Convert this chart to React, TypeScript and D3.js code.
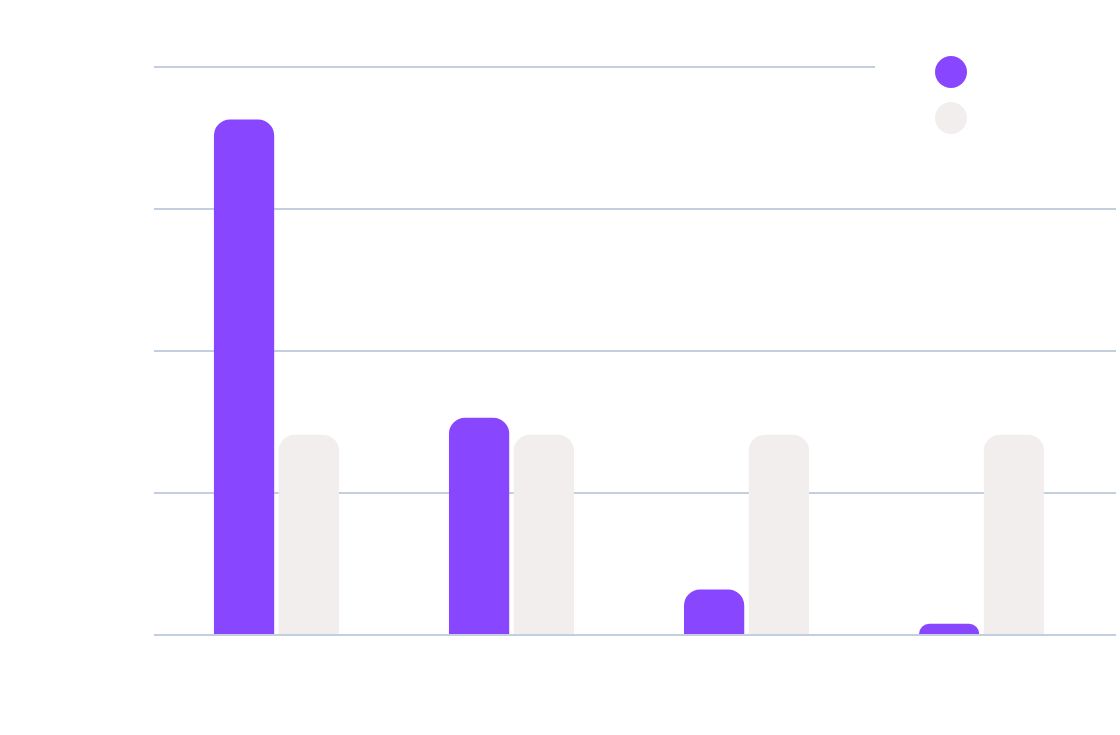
import { useEffect, useRef } from 'react'
import * as d3 from 'd3'

const categories = ['A', 'B', 'C', 'D']
const seriesNames = ['Series 1', 'Series 2']
const series1 = [3.63, 1.53, 0.32, 0.08]
const series2 = [1.41, 1.41, 1.41, 1.41]
const yTicks = [0, 1, 2, 3, 4]
const colors = ['#8847ff', '#f1eeed']

function topRoundedBar(x: number, y: number, w: number, h: number, r: number) {
  const rr = Math.min(r, h, w / 2)
  return `M${x},${y + h}V${y + rr}A${rr},${rr} 0 0 1 ${x + rr},${y}H${x + w - rr}A${rr},${rr} 0 0 1 ${x + w},${y + rr}V${y + h}Z`
}

export default function App() {
  const svgRef = useRef<SVGSVGElement>(null)

  useEffect(() => {
    if (!svgRef.current) return
    const width = 1120
    const height = 735

    d3.select(svgRef.current).selectAll('*').remove()
    const svg = d3.select(svgRef.current)
      .attr('width', width)
      .attr('height', height)

    const y = d3.scaleLinear().domain([0, 4]).range([635, 67])

    const x0 = d3.scaleBand()
      .domain(categories)
      .range([154, 1104])
      .paddingInner(0.468)
      .paddingOuter(0.255)

    const x1 = d3.scaleBand()
      .domain(seriesNames)
      .range([0, x0.bandwidth()])
      .paddingInner(0.07)

    // Gridlines
    svg.append('g')
      .selectAll('line')
      .data(yTicks)
      .join('line')
      .attr('x1', 154)
      .attr('x2', 1116)
      .attr('y1', d => y(d))
      .attr('y2', d => y(d))
      .attr('stroke', '#c3cedf')
      .attr('stroke-width', 2)

    const rows = categories.map((c, i) => ({ cat: c, values: [series1[i], series2[i]] }))

    const groups = svg.append('g')
      .selectAll('g')
      .data(rows)
      .join('g')
      .attr('transform', d => `translate(${x0(d.cat)},0)`)

    groups.selectAll('path')
      .data(d => d.values.map((v, j) => ({ name: seriesNames[j], v, j })))
      .join('path')
      .attr('fill', d => colors[d.j])
      .attr('d', d => {
        const top = y(d.v)
        return topRoundedBar(x1(d.name) || 0, top, x1.bandwidth(), y(0) - 1 - top, 16)
      })

    // Legend
    const legend = svg.append('g')
    legend.append('rect')
      .attr('x', 875)
      .attr('y', 40)
      .attr('width', 245)
      .attr('height', 110)
      .attr('fill', '#ffffff')
    legend.selectAll('circle')
      .data(seriesNames)
      .join('circle')
      .attr('cx', 951)
      .attr('cy', (_, i) => 72 + i * 46)
      .attr('r', 16)
      .attr('fill', (_, i) => colors[i])
  }, [])

  return (
    <div style={{ position: 'fixed', left: 0, top: 0, background: '#ffffff' }}>
      <svg ref={svgRef}></svg>
    </div>
  )
}
